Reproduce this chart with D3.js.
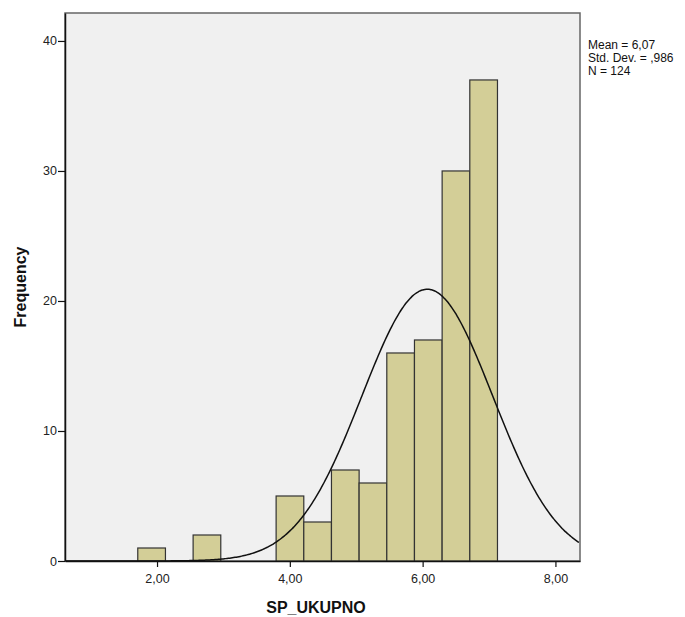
<!DOCTYPE html>
<html>
<head>
<meta charset="utf-8">
<script src="https://cdn.jsdelivr.net/npm/d3@7"></script>
<style>
  html, body { margin: 0; padding: 0; background: #ffffff; }
  svg { display: block; font-family: "Liberation Sans", Arial, sans-serif; }
</style>
</head>
<body>
<svg id="chart" width="685" height="617"></svg>
<script>
// Histogram of SP_UKUPNO with fitted normal curve
const binStart = 1.71;
const binWidth = 0.4167;
const counts = [1, 0, 2, 0, 0, 5, 3, 7, 6, 16, 17, 30, 37];
const xTicks = [2, 4, 6, 8];
const yTicks = [0, 10, 20, 30, 40];
const statsLines = ["Mean = 6,07", "Std. Dev. = ,986", "N = 124"];
const mean = 6.07, sd = 0.986, n = 124;

const svg = d3.select("#chart");
const box = { left: 65, top: 13, right: 580, bottom: 561 };

const x = d3.scaleLinear().domain([0.614, 8.37]).range([box.left, box.right]);
const y = d3.scaleLinear().domain([0, 42.15]).range([box.bottom, box.top]);

// plot background
svg.append("rect")
  .attr("x", box.left).attr("y", box.top)
  .attr("width", box.right - box.left).attr("height", box.bottom - box.top)
  .attr("fill", "#f0f0f0").attr("stroke", "#666").attr("stroke-width", 1.5);

const bins = counts.map((c, i) => ({ x0: binStart + i * binWidth, x1: binStart + (i + 1) * binWidth, c }))
  .filter(d => d.c > 0);

svg.append("g").selectAll("rect").data(bins).join("rect")
  .attr("x", d => x(d.x0)).attr("y", d => y(d.c))
  .attr("width", d => x(d.x1) - x(d.x0)).attr("height", d => y(0) - y(d.c))
  .attr("fill", "#d3ce97").attr("stroke", "#333").attr("stroke-width", 1.2);

// normal curve scaled to counts
const clip = svg.append("clipPath").attr("id", "plotclip").append("rect")
  .attr("x", box.left).attr("y", box.top)
  .attr("width", box.right - box.left).attr("height", box.bottom - box.top);
const pts = d3.range(x.domain()[0], x.domain()[1] + 0.001, 0.02).map(v => [v,
  n * binWidth / (sd * Math.sqrt(2 * Math.PI)) * Math.exp(-0.5 * ((v - mean) / sd) ** 2)]);
svg.append("path").datum(pts)
  .attr("clip-path", "url(#plotclip)")
  .attr("fill", "none").attr("stroke", "#111").attr("stroke-width", 1.5)
  .attr("d", d3.line().x(d => x(d[0])).y(d => y(d[1])).curve(d3.curveBasis));

// axes
const xAxis = svg.append("g").attr("transform", `translate(0,${box.bottom})`)
  .call(d3.axisBottom(x).tickValues(xTicks).tickSize(6).tickSizeOuter(0)
    .tickFormat(d => d3.format(".2f")(d).replace(".", ",")));
xAxis.select(".domain").attr("stroke", "#111").attr("stroke-width", 1.5);
xAxis.selectAll(".tick line").attr("stroke", "#111").attr("stroke-width", 1.2);
xAxis.selectAll(".tick text").attr("font-size", 12.5).attr("fill", "#222").attr("dy", "1.0em")
  .attr("font-family", "Liberation Sans, Arial, sans-serif");

const yAxis = svg.append("g").attr("transform", `translate(${box.left},0)`)
  .call(d3.axisLeft(y).tickValues(yTicks).tickSize(7).tickSizeOuter(0));
yAxis.select(".domain").attr("stroke", "#111").attr("stroke-width", 1.5);
yAxis.selectAll(".tick line").attr("stroke", "#111").attr("stroke-width", 1.2);
yAxis.selectAll(".tick text").attr("font-size", 12.5).attr("fill", "#222").attr("x", -8)
  .attr("font-family", "Liberation Sans, Arial, sans-serif");

// axis titles
svg.append("text").attr("x", 316).attr("y", 613).attr("text-anchor", "middle")
  .attr("font-size", 16).attr("font-weight", "bold").attr("fill", "#111").text("SP_UKUPNO");
svg.append("text").attr("transform", "translate(26,287) rotate(-90)").attr("text-anchor", "middle")
  .attr("font-size", 16).attr("font-weight", "bold").attr("fill", "#111").text("Frequency");

// summary statistics
svg.append("g").selectAll("text").data(statsLines).join("text")
  .attr("x", 588).attr("y", (d, i) => 49 + i * 13)
  .attr("font-size", 12).attr("fill", "#111").text(d => d);
</script>
</body>
</html>
